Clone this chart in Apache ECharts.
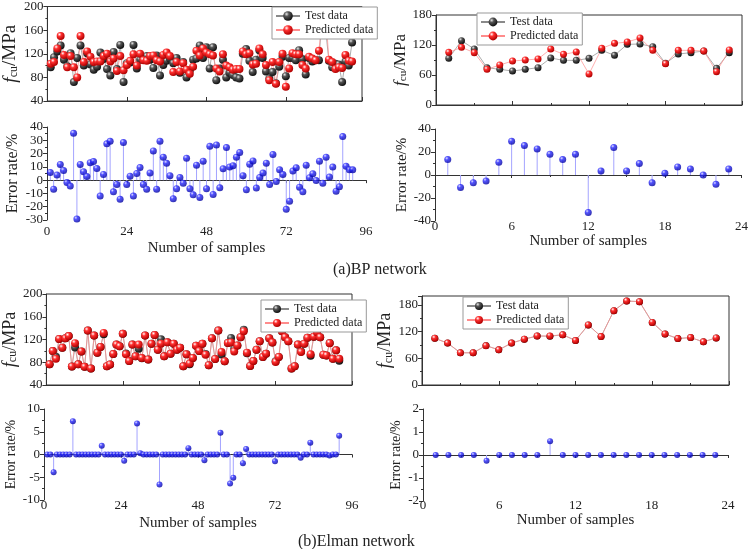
<!DOCTYPE html>
<html>
<head>
<meta charset="utf-8">
<script src="https://cdn.jsdelivr.net/npm/echarts@6/dist/echarts.min.js"></script>
<style>
html, body { margin: 0; padding: 0; background: #fff; }
#chart { width: 751px; height: 549px; }
</style>
</head>
<body>
<div id="chart"></div>
<script>
// BP network - training samples (92)
var bpTrainActual = [97, 114, 124, 134, 110, 99, 121, 72, 113, 134,
    100, 121, 102, 93, 98, 122, 111, 94, 83, 123,
    94, 135, 72, 104, 105, 135, 95, 110, 113, 116,
    110, 96, 117, 83, 101, 108, 112, 104, 113, 88,
    106, 80, 92, 110, 112, 134, 113, 131, 95, 131,
    75, 95, 110, 80, 88, 84, 80, 78, 120, 128,
    108, 89, 110, 126, 113, 90, 78, 89, 70, 98,
    115, 82, 113, 113, 109, 126, 111, 85, 113, 107,
    109, 109, 188, 162, 108, 97, 103, 102, 72, 107,
    100, 139];
var bpTrainPredicted = [103, 106, 129, 150, 118, 97, 116, 97, 80, 150,
    106, 124, 115, 106, 107, 107, 116, 120, 107, 112,
    91, 116, 92, 101, 108, 119, 100, 120, 109, 108,
    116, 117, 109, 107, 118, 122, 116, 89, 106, 90,
    104, 93, 86, 98, 125, 117, 129, 122, 119, 117,
    95, 90, 119, 100, 97, 93, 94, 94, 124, 119,
    121, 102, 103, 129, 119, 101, 75, 106, 69, 106,
    120, 64, 95, 121, 119, 119, 101, 95, 115, 112,
    109, 125, 184, 190, 110, 106, 94, 97, 96, 118,
    108, 107];
var bpTrainError = [5.8, -6.8, 3.8, 11.8, 7.3, -1.8, -4.5, 35.3, -29.3, 11.8,
    6.3, 2.8, 13, 14, 8.8, -12, 4.3, 27.3, 29.3, -8.8,
    -3.3, -14.3, 28.3, -3.3, 3, -12, 5, 9.5, -3.3, -6.8,
    5.3, 22, -6.8, 29.3, 17.3, 12.8, 3.3, -14, -6.5, 2,
    -2.3, 16.5, -6.5, -11, 11.3, -13, 14.3, -6.5, 25.5, -10.8,
    26.5, -5.8, 8.5, 24.5, 9.8, 10.8, 17.3, 20.8, 3.3, -7.3,
    12, 14.5, -6, 2, 5.3, 12.8, -3.3, 19.3, -1, 7.8,
    4.3, -22, -15.8, 6.8, 9.3, -5.3, -8.8, 11.3, 1.8, 4.8,
    -0.3, 14.3, -2.3, 17.3, 2.3, 9.8, -8.3, -5, 32.8, 10.5,
    7.8, 7.8];

// BP network - test samples (23)
var bpTestActual = [93.3, 128.7, 112, 74.7, 71.3, 68, 71.3, 74.7, 94, 89.3, 89.3, 93.3,
    109.3, 99.3, 121.3, 122, 116.7, 83.3, 102, 104.7, 108, 73.3, 104.7];
var bpTestPredicted = [105.3, 115.3, 104.7, 71.3, 80, 88, 90, 92, 112, 101.3, 106, 62,
    113.3, 123.3, 126, 134, 109.3, 82.7, 109.3, 109.3, 108, 66.7, 110];
var bpTestError = [13.4, -10.8, -6.7, -5.2, 11, 29.4, 25.6, 22.7, 18, 13.4, 18, -32.6,
    3.5, 23.9, 3.5, 9.9, -6.7, 1.5, 7, 5.2, 0, -8.1, 5.2];

// Elman network - training samples (92)
var elmanTrainActual = [76.5, 99.7, 89.5, 121, 105.5, 122, 126, 72.4, 105.9, 76.5,
    99, 72, 135.7, 69, 127, 96.8, 107, 129.1, 73, 76,
    94.5, 111, 108, 130, 95.3, 82, 111, 90.4, 103.9, 87.2,
    127, 85, 112.5, 128, 102, 120.4, 90.4, 115, 95, 112.5,
    102, 105.5, 73, 94, 76.5, 87.5, 109, 99.7, 112.5, 94.5,
    74.8, 122.3, 85.8, 135.7, 93.5, 81.7, 114, 122.6, 104.3, 109.6,
    124, 137.1, 95.7, 73.6, 82.3, 102, 117, 89.3, 95, 122.3,
    114.8, 81.8, 89.3, 134.5, 124, 117, 69, 73, 111, 98.7,
    112.5, 123, 91.6, 125, 132.8, 124, 93.3, 92, 113.8, 86,
    101, 82.6];
var elmanTrainPredicted = [76.5, 99.7, 86, 121, 105.5, 122, 126, 72.4, 113.6, 76.5,
    99, 72, 135.7, 69, 127, 96.8, 107, 131.6, 73, 76,
    94.5, 111, 108, 130, 94, 82, 111, 90.4, 111, 87.5,
    127, 85, 112.5, 128, 102, 112.5, 90.4, 115, 95, 112.5,
    102, 105.5, 73, 94, 77.6, 87.5, 109, 99.7, 112.5, 93.3,
    74.8, 122.3, 85.8, 135.7, 98, 81.7, 114, 114.8, 99, 109.6,
    124, 134.5, 96.8, 73.6, 82.3, 102, 117, 89.3, 95, 122.3,
    114.8, 80.6, 89.3, 134.5, 124, 117, 69, 73, 111, 98,
    112.5, 123, 94, 125, 132.8, 124, 93.3, 92, 113.6, 86,
    101, 86];
var elmanTrainError = [0, 0, -3.9, 0, 0, 0, 0, 0, 7.3, 0,
    0, 0, 0, 0, 0, 0, 0, 1.9, 0, 0,
    0, 0, 0, 0, -1.4, 0, 0, 0, 6.8, 0.3,
    0, 0, 0, 0, 0, -6.6, 0, 0, 0, 0,
    0, 0, 0, 0, 1.4, 0, 0, 0, 0, -1.25,
    0, 0, 0, 0, 4.8, 0, 0, -6.4, -5.1, 0,
    0, -1.9, 1.2, 0, 0, 0, 0, 0, 0, 0,
    0, -1.5, 0, 0, 0, 0, 0, 0, 0, -0.7,
    0, 0, 2.6, 0, 0, 0, 0, 0, -0.2, 0,
    0, 4.1];

// Elman network - test samples (23)
var elmanTestActual = [105, 94.2, 72.4, 72.4, 88.6, 79, 94.2, 103, 110.2, 109.5, 113, 100,
    135, 108.8, 167, 188.7, 187.3, 140.7, 114.6, 104.4, 106.6, 97, 105.8];
var elmanTestPredicted = [105, 94.2, 72.4, 72.4, 88.4, 79, 94.2, 103, 110.2, 110.2, 113, 100,
    135, 108.8, 167, 188.7, 187.3, 140.7, 114.6, 104.4, 106.6, 97, 105.8];
var elmanTestError = [0, 0, 0, 0, -0.25, 0, 0, 0, 0, 0.6, 0, 0,
    0, 0, 0, 0, 0, 0, 0, 0, 0, 0, 0];

var serif = '"Liberation Serif", "Times New Roman", serif';
var ink = '#222';
var line = '#333';

function pairs(arr) {
    return arr.map(function (v, i) { return [i + 1, v]; });
}
function sphere(light, mid, dark) {
    return {
        type: 'radial', x: 0.35, y: 0.3, r: 0.7,
        colorStops: [{ offset: 0, color: light }, { offset: 0.35, color: mid }, { offset: 1, color: dark }]
    };
}
var graySphere = sphere('#e8e8e8', '#555', '#111');
var redSphere = sphere('#ffffff', '#ff3030', '#b00000');
var blueSphere = sphere('#d8d8ff', '#2a2aff', '#0000a0');

var grids = [], xAxes = [], yAxes = [], series = [];

function yAxisCfg(k, o) {
    return {
        gridIndex: k, type: 'value', min: o.min, max: o.max, interval: o.step,
        axisLine: { show: true, onZero: false, lineStyle: { color: line, width: 1 } },
        axisTick: { show: true, length: 4, lineStyle: { color: line } },
        minorTick: { show: true, splitNumber: 2, length: 2, lineStyle: { color: line } },
        splitLine: { show: false },
        axisLabel: { fontFamily: serif, fontSize: 13, color: ink, margin: 4, showMaxLabel: o.showMax !== false },
        name: o.name, nameLocation: 'middle', nameGap: o.nameGap,
        nameTextStyle: {
            fontFamily: serif, fontSize: o.nameSize, color: ink,
            rich: {
                i: { fontFamily: serif, fontSize: o.nameSize, fontStyle: 'italic', color: ink },
                s: { fontFamily: serif, fontSize: Math.round(o.nameSize * 0.65), color: ink, verticalAlign: 'bottom', lineHeight: 9 }
            }
        }
    };
}

// upper panel: measured vs predicted strength
function strengthPanel(box, o) {
    var k = grids.length;
    grids.push(Object.assign({ show: true, borderColor: line, borderWidth: 1, backgroundColor: 'transparent' }, box));
    var xi = xAxes.length;
    xAxes.push({
        gridIndex: k, type: 'value', min: 0, max: o.xMax, interval: o.xStep,
        axisLine: { show: true, onZero: false, lineStyle: { color: line } },
        axisTick: { show: true, inside: true, length: 4, lineStyle: { color: line } },
        minorTick: { show: o.xMinor, splitNumber: 2, length: 2, lineStyle: { color: line } },
        axisLabel: { show: false }, splitLine: { show: false }
    });
    var yi = yAxes.length;
    yAxes.push(yAxisCfg(k, {
        min: o.yMin, max: o.yMax, step: o.yStep, showMax: o.showMax,
        name: '{i|f}{s|cu}/MPa', nameGap: o.nameGap, nameSize: o.nameSize
    }));
    series.push({
        name: 'Test data', type: 'line', xAxisIndex: xi, yAxisIndex: yi,
        data: pairs(o.actual), symbol: 'circle', symbolSize: o.dot,
        itemStyle: { color: graySphere }, lineStyle: { color: '#8a8a8a', width: 0.7 }
    });
    series.push({
        name: 'Predicted data', type: 'line', xAxisIndex: xi, yAxisIndex: yi,
        data: pairs(o.predicted), symbol: 'circle', symbolSize: o.dot,
        itemStyle: { color: redSphere }, lineStyle: { color: '#ff8c8c', width: 0.7 }
    });
}

// lower panel: error rate stems
function errorPanel(box, o) {
    var k = grids.length;
    grids.push(box);
    var xi = xAxes.length;
    xAxes.push({
        gridIndex: k, type: 'value', position: 'bottom', min: 0, max: o.xMax, interval: o.xStep,
        axisLine: { show: false, onZero: false },
        axisTick: { show: false },
        axisLabel: { fontFamily: serif, fontSize: 13, color: ink, margin: o.labelMargin },
        splitLine: { show: false },
        name: 'Number of samples', nameLocation: 'middle', nameGap: o.xNameGap,
        nameTextStyle: { fontFamily: serif, fontSize: 15, color: ink }
    });
    xAxes.push({
        gridIndex: k, type: 'value', position: 'bottom', min: 0, max: o.xMax, interval: o.xStep,
        axisLine: { show: true, onZero: true, lineStyle: { color: line } },
        axisTick: { show: true, length: 3, lineStyle: { color: line } },
        minorTick: { show: o.xMinor, splitNumber: 2, length: 2, lineStyle: { color: line } },
        axisLabel: { show: false }, splitLine: { show: false }
    });
    var yi = yAxes.length;
    yAxes.push(yAxisCfg(k, {
        min: o.yMin, max: o.yMax, step: o.yStep,
        name: 'Error rate/%', nameGap: o.nameGap, nameSize: o.nameSize
    }));
    series.push({
        type: 'bar', xAxisIndex: xi, yAxisIndex: yi, data: pairs(o.error),
        barWidth: 1, itemStyle: { color: '#a4a4ff' }, silent: true
    });
    series.push({
        type: 'scatter', xAxisIndex: xi, yAxisIndex: yi, data: pairs(o.error),
        symbolSize: o.dot, itemStyle: { color: blueSphere }, z: 3
    });
}

strengthPanel({ left: 47, top: 5, width: 315, height: 96 }, {
    xMax: 95, xStep: 24, xMinor: false, yMin: 40, yMax: 200, yStep: 40,
    actual: bpTrainActual, predicted: bpTrainPredicted, dot: 8, nameGap: 25, nameSize: 19
});
errorPanel({ left: 47, top: 127, width: 319, height: 93 }, {
    xMax: 96, xStep: 24, xMinor: false, yMin: -30, yMax: 40, yStep: 10,
    error: bpTrainError, dot: 7, nameGap: 26, nameSize: 16, labelMargin: 5, xNameGap: 21
});
strengthPanel({ left: 436, top: 15, width: 306, height: 90 }, {
    xMax: 24, xStep: 6, xMinor: true, yMin: 0, yMax: 180, yStep: 60,
    actual: bpTestActual, predicted: bpTestPredicted, dot: 7, nameGap: 22, nameSize: 17
});
errorPanel({ left: 435, top: 129, width: 307, height: 92 }, {
    xMax: 24, xStep: 6, xMinor: true, yMin: -40, yMax: 40, yStep: 20,
    error: bpTestError, dot: 7, nameGap: 24, nameSize: 15, labelMargin: -1, xNameGap: 11
});
strengthPanel({ left: 44, top: 294, width: 308, height: 91 }, {
    xMax: 96, xStep: 24, xMinor: false, yMin: 40, yMax: 200, yStep: 40,
    actual: elmanTrainActual, predicted: elmanTrainPredicted, dot: 8, nameGap: 22, nameSize: 18
});
errorPanel({ left: 44, top: 409, width: 308, height: 91 }, {
    xMax: 96, xStep: 24, xMinor: false, yMin: -10, yMax: 10, yStep: 5,
    error: elmanTrainError, dot: 6, nameGap: 23, nameSize: 14, labelMargin: -1, xNameGap: 16
});
strengthPanel({ left: 422, top: 296, width: 307, height: 89 }, {
    xMax: 24, xStep: 6, xMinor: true, yMin: 0, yMax: 200, yStep: 60, showMax: false,
    actual: elmanTestActual, predicted: elmanTestPredicted, dot: 7, nameGap: 20, nameSize: 18
});
errorPanel({ left: 423, top: 409, width: 305, height: 92 }, {
    xMax: 24, xStep: 6, xMinor: true, yMin: -2, yMax: 2, yStep: 1,
    error: elmanTestError, dot: 6, nameGap: 20, nameSize: 14, labelMargin: -2, xNameGap: 9
});

function legendAt(left, top, size) {
    return {
        left: left, top: top, orient: 'vertical', itemGap: 2,
        itemWidth: 24, itemHeight: size, padding: [3, 4, 3, 3],
        borderColor: '#999', borderWidth: 1, backgroundColor: '#fff',
        textStyle: { fontFamily: serif, fontSize: 12, color: ink },
        data: ['Test data', 'Predicted data']
    };
}

var option = {
    animation: false,
    backgroundColor: '#fff',
    title: [
        { text: '(a)BP network', left: 328, top: 257, textStyle: { fontFamily: serif, fontSize: 16, fontWeight: 'normal', color: ink } },
        { text: '(b)Elman network', left: 293, top: 529, textStyle: { fontFamily: serif, fontSize: 16, fontWeight: 'normal', color: ink } }
    ],
    legend: [
        legendAt(272, 7, 12),
        legendAt(477, 13, 11),
        legendAt(261, 300, 10),
        legendAt(463, 297, 10)
    ],
    grid: grids,
    xAxis: xAxes,
    yAxis: yAxes,
    series: series
};

var chart = echarts.init(document.getElementById('chart'), null, { renderer: 'canvas' });
chart.setOption(option);
</script>
</body>
</html>
